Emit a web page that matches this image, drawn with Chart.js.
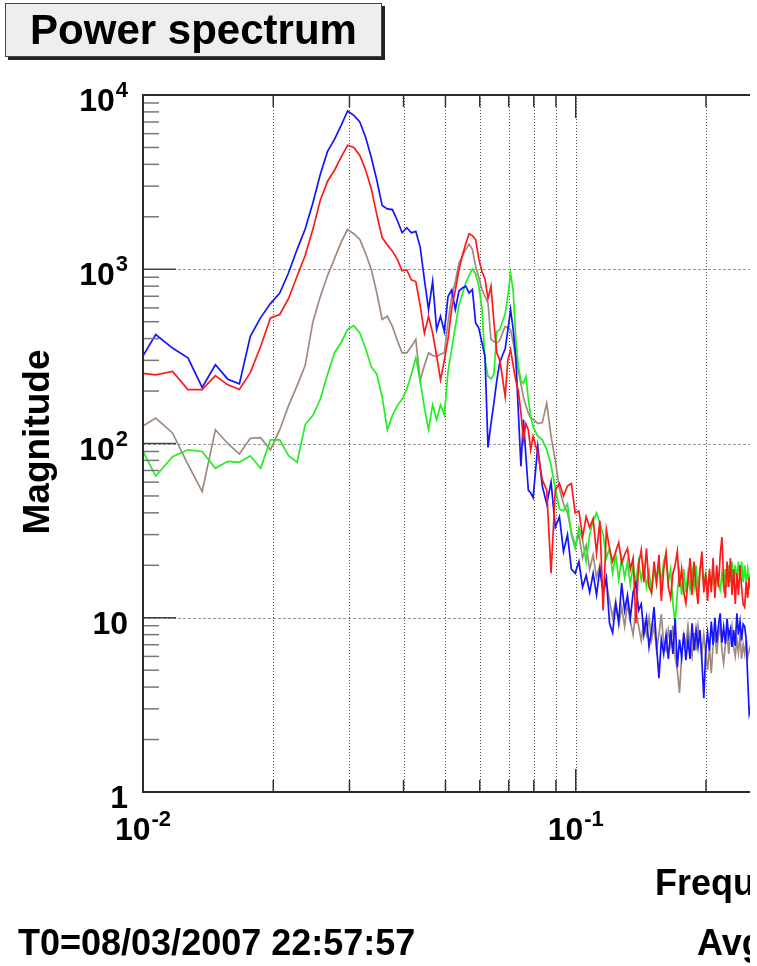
<!DOCTYPE html>
<html>
<head>
<meta charset="utf-8">
<title>Power spectrum</title>
<script src="https://cdn.jsdelivr.net/npm/chart.js@4"></script>
<style>
  html, body { margin: 0; padding: 0; background: #fff; }
  body {
    width: 757px; height: 966px; overflow: hidden; position: relative;
    font-family: "Liberation Sans", Arial, sans-serif; color: #000;
  }
  #recorte { position: absolute; left: 0; top: 0; width: 750px; height: 966px; overflow: hidden; }
  #grafico { position: absolute; left: 0; top: 0; }
  .caixa-titulo {
    position: absolute; left: 5px; top: 3px; width: 375px; height: 52px;
    background: #eeeeee; border: 1.5px solid #444; box-shadow: 3px 3px 0 #222;
    font-weight: bold; font-size: 42px; line-height: 52px; text-align: center;
  }
  .eixo-y {
    position: absolute; left: -73px; top: 422px; width: 220px; height: 40px;
    line-height: 40px; text-align: center; font-weight: bold; font-size: 37px;
    transform: rotate(-90deg);
  }
  .texto {
    position: absolute; font-weight: bold; font-size: 36px; line-height: 36px; white-space: nowrap;
  }
</style>
</head>
<body>
<div id="recorte">
  <canvas id="grafico" width="900" height="966"></canvas>
  <div class="caixa-titulo">Power spectrum</div>
  <div class="eixo-y">Magnitude</div>
  <div class="texto" style="left:655px; top:865px;">Frequency (Hz)</div>
  <div class="texto" style="left:18px; top:925px;">T0=08/03/2007 22:57:57</div>
  <div class="texto" style="left:697px; top:925px;">Avg=10</div>
</div>
<script>
// ========== FREQUENCY BINS (Hz) ==========
const frequencies = [
  0.0097, 0.0107, 0.0117, 0.0127, 0.0137, 0.0147, 0.0157, 0.0167, 0.0177, 0.0187,
  0.0197, 0.0207, 0.0217, 0.0227, 0.0237, 0.0247, 0.0257, 0.0267, 0.0277, 0.0287,
  0.0297, 0.0307, 0.0317, 0.0327, 0.0337, 0.0347, 0.0357, 0.0367, 0.0377, 0.0387,
  0.0397, 0.0407, 0.0417, 0.0427, 0.0437, 0.0447, 0.0457, 0.0467, 0.0477, 0.0487,
  0.0497, 0.0507, 0.0517, 0.0527, 0.0537, 0.0547, 0.0557, 0.0567, 0.0577, 0.0587,
  0.0597, 0.0607, 0.0617, 0.0627, 0.0637, 0.0647, 0.0657, 0.0667, 0.0677, 0.0687,
  0.0697, 0.0707, 0.0717, 0.0727, 0.0737, 0.0747, 0.0757, 0.0767, 0.0777, 0.0787,
  0.0797,
  0.0817, 0.0837, 0.0857, 0.0877, 0.0897, 0.0917, 0.0937, 0.0957, 0.0977, 0.0997,
  0.1017, 0.1037, 0.1057, 0.1077, 0.1097, 0.1117, 0.1137, 0.1157, 0.1177, 0.1197,
  0.1217, 0.1237, 0.1257, 0.1277, 0.1297, 0.1317, 0.1337, 0.1357, 0.1377, 0.1397,
  0.1417, 0.1437, 0.1457, 0.1477, 0.1497, 0.1517, 0.1537, 0.1557, 0.1577, 0.1597,
  0.1617, 0.1637, 0.1657, 0.1677, 0.1697, 0.1717, 0.1737, 0.1757, 0.1777, 0.1797,
  0.1817, 0.1837, 0.1857, 0.1877, 0.1897, 0.1917, 0.1937, 0.1957, 0.1977, 0.1997,
  0.2017, 0.2037, 0.2057, 0.2077, 0.2097, 0.2117, 0.2137, 0.2157, 0.2177, 0.2197,
  0.2217, 0.2237, 0.2257, 0.2277, 0.2297, 0.2317, 0.2337, 0.2357, 0.2377, 0.2397,
  0.2417, 0.2437, 0.2457, 0.2477, 0.2497, 0.2517, 0.2537, 0.2557,
];

// ========== MAGNITUDES PER CHANNEL ==========
const blueMagnitude = [
  280, 422, 353, 310, 210, 283, 234, 220, 412, 528,
  635, 730, 955, 1297, 1700, 2410, 3520, 4745, 5560, 6700,
  8100, 7640, 7000, 5710, 4380, 3240, 2320, 2220, 2200, 1905,
  1620, 1730, 1620, 1650, 1340, 873, 586, 853, 450, 537,
  440, 700, 760, 586, 748, 780, 799, 731, 765, 492,
  460, 380, 316, 95, 130, 171, 230, 290, 320, 350,
  450, 586, 450, 310, 150, 74, 137, 85, 54, 52,
  49,
  96, 57, 45, 60, 33, 38, 24, 30, 19, 18,
  21, 15, 17.5, 14, 18, 13.5, 19, 14, 17, 9.3,
  8.2, 12, 9.5, 15.8, 11, 13.5, 9.9, 14, 15.8, 11,
  12, 8, 10, 6.8, 8.5, 11.5, 7, 4.5, 7.5, 6.2,
  8, 5.8, 8.5, 6.2, 9.9, 5.2, 7.5, 5.9, 8.2, 5.7,
  7.5, 5.8, 9.3, 6.5, 8.5, 6.8, 8.5, 5.6, 3.45, 6.5,
  8.2, 6.5, 9.5, 7, 10, 7.2, 9, 10.6, 7.2, 8.8,
  7.1, 9.9, 7.8, 8.6, 6.8, 8.5, 6.9, 10.6, 8, 9.5,
  7.4, 9.2, 8.9, 7.5, 4.5, 2.8, 3, 5,
];

const redMagnitude = [
  255, 248, 259, 204, 204, 245, 217, 204, 255, 360,
  526, 550, 680, 912, 1200, 1700, 2500, 3200, 3700, 4400,
  5150, 5000, 4500, 3700, 2900, 2050, 1520, 1380, 1270, 1140,
  980, 990, 870, 850, 620, 430, 537, 430, 320, 232,
  300, 400, 600, 760, 990, 1200, 1400, 1600, 1560, 1480,
  1150, 970, 880, 680, 799, 500, 331, 303, 240, 186,
  303, 346, 280, 230, 200, 150, 105, 130, 120, 92,
  110,
  88, 62, 54, 18, 54, 59, 50, 57, 59, 40,
  41, 29, 38, 33, 37, 23.5, 36, 11, 32, 25,
  21, 24, 27, 20.5, 23, 25, 19, 22, 9.3, 20,
  24.5, 16, 25, 15, 13.9, 21, 16, 23, 12.5, 19,
  23.5, 15, 13, 18, 20, 24, 15, 19, 14, 12.1,
  16, 22, 13.5, 21, 15, 12, 19, 24, 14, 18,
  12.5, 19, 14, 22, 13, 20, 15, 23, 29, 16,
  13, 21, 15, 22, 13.5, 19, 12, 18, 13.5, 20,
  15, 12, 11.5, 16, 13, 17, 14.5, 15,
];

const brownMagnitude = [
  120, 140, 115, 76, 53, 120, 100, 87, 107, 108,
  92, 120, 165, 215, 280, 500, 700, 920, 1150, 1430,
  1690, 1600, 1482, 1230, 995, 731, 516, 537, 470, 390,
  331, 331, 360, 395, 230, 280, 331, 320, 316, 325,
  331, 500, 700, 850, 1083, 1187, 1300, 1391, 1300, 1040,
  900, 765, 700, 640, 395, 385, 377, 390, 430, 470,
  460, 450, 380, 303, 260, 220, 185, 165, 150, 140,
  138,
  130, 132, 170, 110, 80, 55, 45, 40, 31, 26,
  30, 22, 26, 19, 23, 17, 20, 14, 16, 12.6,
  10, 12.5, 9, 11.5, 8.9, 12, 9.5, 8, 11, 9,
  7.4, 9.5, 8, 10, 7.5, 9, 6.5, 8, 10.5, 7,
  6.5, 8.5, 7, 9, 6, 5, 3.7, 6, 8, 7,
  9, 7, 6, 8.2, 6.5, 9, 7.5, 6.2, 8, 6.3,
  5, 6.8, 4.8, 7, 8.2, 6.2, 7.8, 9, 6.5, 5.5,
  7, 8.5, 6.2, 7.8, 9, 6.8, 6, 7.5, 6.3, 8,
  5.8, 7, 6.2, 7.5, 6, 6.5, 7, 6,
];

const greenMagnitude = [
  105, 65, 84, 92, 90, 72, 79, 78, 85, 72,
  105, 105, 85, 78, 128, 145, 180, 250, 331, 380,
  450, 475, 431, 350, 275, 250, 185, 120, 145, 165,
  180, 205, 250, 310, 230, 160, 120, 167, 137, 167,
  146, 260, 350, 470, 620, 720, 836, 920, 1004, 940,
  800, 600, 300, 243, 235, 250, 440, 450, 500, 556,
  700, 950, 750, 400, 277, 230, 221, 243, 180, 143,
  125,
  110, 105, 92, 75, 55, 42, 41, 45, 30, 25,
  33, 28, 21, 30, 36, 40, 35, 30, 22, 25,
  18, 23, 16.5, 22, 17, 21, 15.5, 20, 16, 21,
  16.5, 20, 15, 18.5, 14, 19, 15.5, 20, 16, 21,
  23.5, 16, 19, 12, 9.3, 14, 18, 13.5, 19, 14,
  18, 14.5, 19, 15, 20, 14, 19, 20.5, 15, 18,
  14.5, 18, 15, 19, 14, 18, 15.5, 14.4, 18, 15,
  19, 15, 20, 16, 21, 15.5, 20, 16.5, 21, 17,
  21, 16, 20, 15.5, 19, 16, 18, 16.5,
];

// ========== AXES: GRID, TICKS AND LABELS ==========
const xGridValues = [0.02, 0.03, 0.04, 0.05, 0.06, 0.07, 0.08, 0.09, 0.1, 0.2, 0.3, 0.4];
const xMajorTicks = [0.1];
const xLabelValues = [0.01, 0.1];
const xLabelExponents = ["-2", "-1"];

const yGridValues = [10, 100, 1000];
const yLabelValues = [1, 10, 100, 1000, 10000];
const yLabelBases = ["1", "10", "10", "10", "10"];
const yLabelExponents = ["", "", "2", "3", "4"];

const FONTE_GRANDE = "bold 32px 'Liberation Sans', Arial, sans-serif";
const FONTE_EXPOENTE = "bold 22px 'Liberation Sans', Arial, sans-serif";

function linha(ctx, x1, y1, x2, y2) {
  ctx.beginPath();
  ctx.moveTo(x1, y1);
  ctx.lineTo(x2, y2);
  ctx.stroke();
}

// Writes "base^exp", aligned by its right edge or its centre
function escreverPotencia(ctx, base, exp, x, baseline, align) {
  ctx.font = FONTE_GRANDE;
  const wBase = ctx.measureText(base).width;
  ctx.font = FONTE_EXPOENTE;
  const wExp = exp ? ctx.measureText(exp).width + 1 : 0;
  const total = wBase + wExp;
  const left = align === "right" ? x - total : x - total / 2;
  ctx.fillStyle = "#000";
  ctx.textAlign = "left";
  ctx.textBaseline = "alphabetic";
  ctx.font = FONTE_GRANDE;
  ctx.fillText(base, left, baseline);
  if (exp) {
    ctx.font = FONTE_EXPOENTE;
    ctx.fillText(exp, left + wBase + 1, baseline - 14);
  }
}

const moldura = {
  id: "moldura",
  beforeDatasetsDraw(chart) {
    const { ctx, chartArea: a, scales } = chart;
    ctx.save();
    ctx.lineWidth = 1;
    // vertical dotted grid
    ctx.strokeStyle = "#555";
    ctx.setLineDash([1, 2]);
    xGridValues.forEach((v) => {
      const px = Math.round(scales.x.getPixelForValue(v)) + 0.5;
      linha(ctx, px, a.top, px, a.bottom);
    });
    // horizontal dashed grid
    ctx.strokeStyle = "#999";
    ctx.setLineDash([3, 2]);
    yGridValues.forEach((v) => {
      const py = Math.round(scales.y.getPixelForValue(v)) + 0.5;
      linha(ctx, a.left, py, a.right, py);
    });
    ctx.restore();
  },
  afterDatasetsDraw(chart) {
    const { ctx, chartArea: a, scales } = chart;
    ctx.save();
    ctx.setLineDash([]);

    // left axis ticks (inside)
    for (let dec = 1; dec <= 1000; dec *= 10) {
      for (let m = 2; m <= 9; m++) {
        const py = scales.y.getPixelForValue(m * dec);
        ctx.strokeStyle = "#777";
        ctx.lineWidth = 1.5;
        linha(ctx, a.left, py, a.left + 16, py);
      }
    }
    yLabelValues.forEach((v) => {
      const py = scales.y.getPixelForValue(v);
      ctx.strokeStyle = "#444";
      ctx.lineWidth = 1.6;
      linha(ctx, a.left, py, a.left + 33, py);
    });

    // bottom and top axis ticks (inside)
    xGridValues.forEach((v) => {
      const px = scales.x.getPixelForValue(v);
      const comp = xMajorTicks.includes(v) ? 23 : 12;
      ctx.strokeStyle = "#333";
      ctx.lineWidth = 1.5;
      linha(ctx, px, a.bottom, px, a.bottom - comp);
      linha(ctx, px, a.top, px, a.top + comp);
    });

    // frame
    ctx.strokeStyle = "#2a2a2a";
    ctx.lineWidth = 2;
    linha(ctx, a.left, a.top, a.left, a.bottom);
    linha(ctx, a.left - 1, a.top, a.right, a.top);
    linha(ctx, a.left - 1, a.bottom, a.right, a.bottom);

    // tick labels
    yLabelValues.forEach((v, i) => {
      const py = scales.y.getPixelForValue(v);
      escreverPotencia(ctx, yLabelBases[i], yLabelExponents[i], a.left - 15, py + 16, "right");
    });
    xLabelValues.forEach((v, i) => {
      const px = scales.x.getPixelForValue(v);
      escreverPotencia(ctx, "10", xLabelExponents[i], px, a.bottom + 48, "center");
    });
    ctx.restore();
  },
};

function serie(valores) {
  return frequencies.map((f, i) => ({ x: f, y: valores[i] }));
}

// ========== CHART ==========
function criarEspectro() {
  const ctx = document.getElementById("grafico").getContext("2d");
  new Chart(ctx, {
    type: "line",
    data: {
      datasets: [
        { label: "red", data: serie(redMagnitude), borderColor: "#ff1a1a", borderWidth: 1.7 },
        { label: "blue", data: serie(blueMagnitude), borderColor: "#1414ff", borderWidth: 1.7 },
        { label: "green", data: serie(greenMagnitude), borderColor: "#22ee22", borderWidth: 1.7 },
        { label: "brown", data: serie(brownMagnitude), borderColor: "#a08a7e", borderWidth: 1.7 },
      ],
    },
    options: {
      responsive: false,
      animation: false,
      events: [],
      layout: { padding: { left: 143, top: 95, right: 21.8, bottom: 174 } },
      plugins: { legend: { display: false }, tooltip: { enabled: false } },
      elements: {
        point: { radius: 0 },
        line: { tension: 0 },
      },
      scales: {
        x: { type: "logarithmic", min: 0.01, max: 0.5, display: false },
        y: { type: "logarithmic", min: 1, max: 10000, display: false },
      },
    },
    plugins: [moldura],
  });
}

document.addEventListener("DOMContentLoaded", criarEspectro);
</script>
</body>
</html>
